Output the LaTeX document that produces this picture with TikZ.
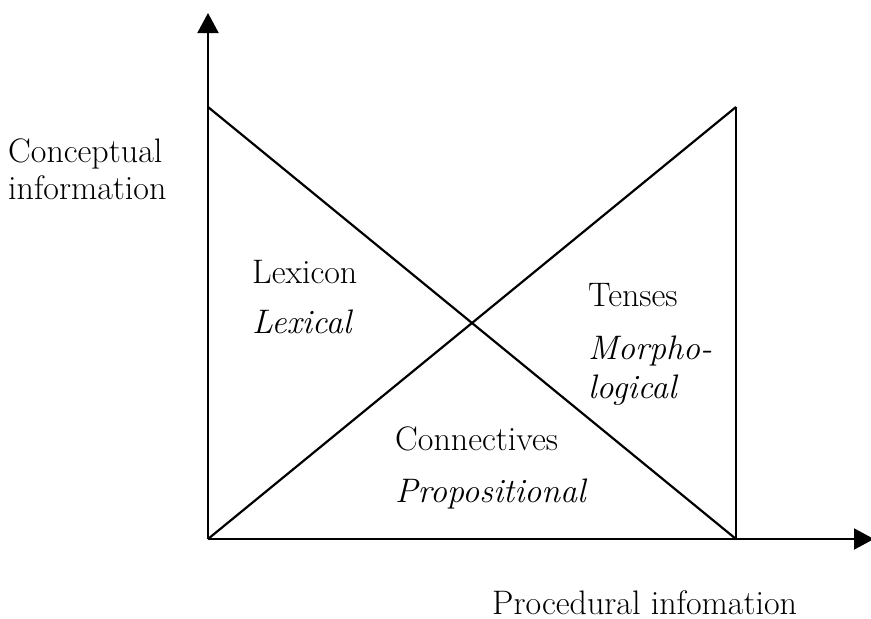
\documentclass[tikz,border=0pt]{standalone}
\usetikzlibrary{arrows.meta}
\begin{document}
\begin{tikzpicture}[x=1pt,y=-1pt,
  lbl/.style={inner sep=0pt,anchor=base west,font=\fontsize{34}{40}\selectfont},
  ilbl/.style={lbl,font=\fontsize{34}{40}\selectfont\itshape},
  edge/.style={line width=2.2pt},
  axis/.style={line width=2pt,-{Triangle[length=20pt,width=21pt]}}]
  \useasboundingbox (0,0) rectangle (871,619);
  \clip (0,0) rectangle (871,619);
  % corner points of the diagram
  \coordinate (O) at (208,539);
  \coordinate (TL) at (208,107);
  \coordinate (TR) at (736,107);
  \coordinate (BR) at (736,539);
  \coordinate (ytip) at (208,13);
  \coordinate (xtip) at (874,539);
  % axes
  \draw[axis] (O) -- (ytip);
  \draw[axis] (O) -- (xtip);
  % crossing diagonals and right edge
  \draw[edge] (TL) -- (BR);
  \draw[edge] (O) -- (TR);
  \draw[edge] (BR) -- (TR);
  % labels
  \node[lbl] (conc) at (8,162) {Conceptual};
  \node[lbl] (info) at (8,199) {information};
  \node[lbl] (lexicon) at (252,283) {Lexicon};
  \node[ilbl] (lexical) at (252,333) {Lexical};
  \node[lbl] (tenses) at (588,306) {Tenses};
  \node[ilbl] (morpho) at (588,359) {Morpho-};
  \node[ilbl] (logical) at (588,398) {logical};
  \node[lbl] (conn) at (395,450) {Connectives};
  \node[ilbl] (prop) at (395,502) {Propositional};
  \node[lbl] (proc) at (492,614) {Procedural infomation};
\end{tikzpicture}
\end{document}
